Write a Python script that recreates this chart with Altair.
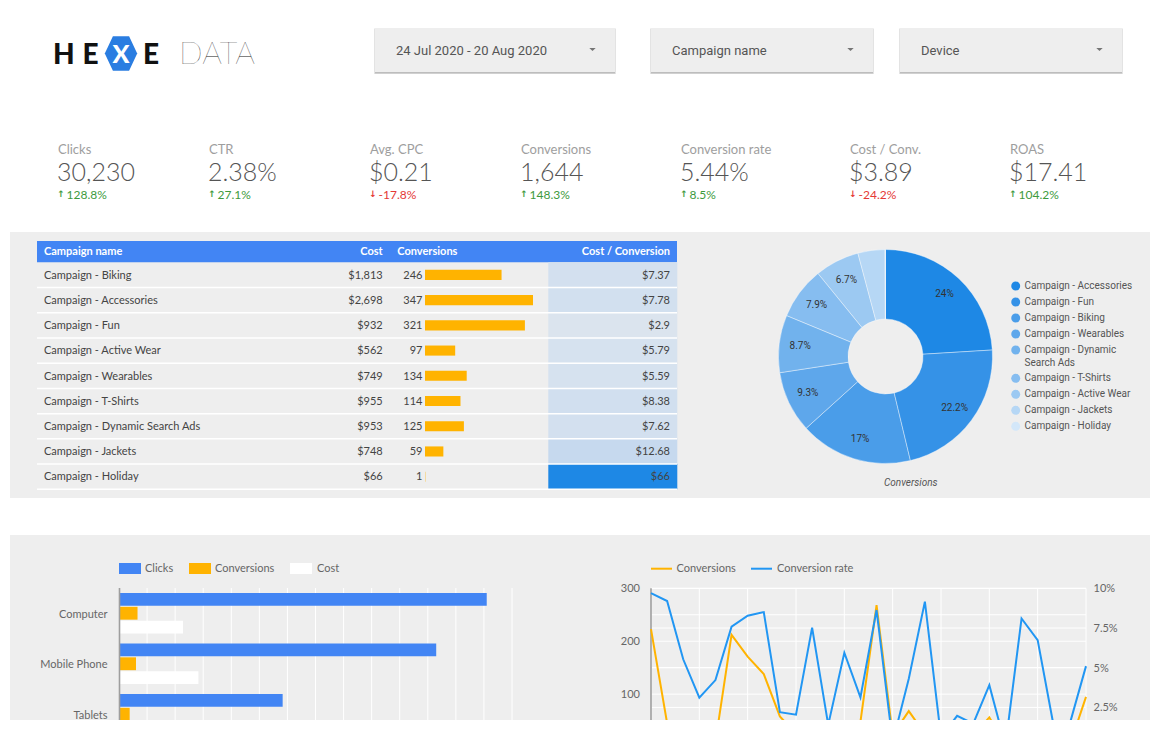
import altair as alt
import pandas as pd

# ---------------- data ----------------
CAMPAIGNS = ["Campaign - Biking", "Campaign - Accessories", "Campaign - Fun",
             "Campaign - Active Wear", "Campaign - Wearables", "Campaign - T-Shirts",
             "Campaign - Dynamic Search Ads", "Campaign - Jackets", "Campaign - Holiday"]
CAMPAIGN_COST = [1813, 2698, 932, 562, 749, 955, 953, 748, 66]
CAMPAIGN_CONV = [246, 347, 321, 97, 134, 114, 125, 59, 1]

KPI_LABELS = ["Clicks", "CTR", "Avg. CPC", "Conversions", "Conversion rate", "Cost / Conv.", "ROAS"]
KPI_VALUES = ["30,230", "2.38%", "$0.21", "1,644", "5.44%", "$3.89", "$17.41"]
KPI_CHANGES = [128.8, 27.1, -17.8, 148.3, 8.5, -24.2, 104.2]

FILTER_LABELS = ["24 Jul 2020 - 20 Aug 2020", "Campaign name", "Device"]

DEVICES = ["Computer", "Mobile Phone", "Tablets"]
METRICS = ["Clicks", "Conversions", "Cost"]
DEVICE_CLICKS = [13100, 11300, 5830]
DEVICE_CONV = [660, 605, 380]
DEVICE_COST = [2280, 2830, 1285]
BAR_TICKS = [1000, 2000, 3000, 4000, 5000, 6000, 7000, 8000, 9000, 10000, 11000, 12000, 13000, 14000]

DATES = [d.strftime("%Y-%m-%d") for d in pd.date_range("2020-07-24", "2020-08-20")]
DAILY_CONV = [223, 45, 20, 15, 10, 212, 171, 138, 58, 25, 30, 8, 40, 48,
              268, 23, 68, 25, 10, 28, 22, 56, 5, 45, 40, 18, 4, 95]
DAILY_RATE = [9.69, 9.2, 5.53, 3.11, 4.22, 7.58, 8.27, 8.5, 2.2, 2.04, 7.52, 1.4, 5.94, 3.13,
              8.63, 0.3, 4.3, 9.16, 0.63, 1.97, 1.48, 3.9, 0.1, 8.1, 6.74, 1.3, 1.5, 5.1]
CONV_TICKS = [0, 50, 100, 150, 200, 250, 300]
RATE_TICKS = [0, 2.5, 5, 7.5, 10]

PIE_COLORS = ["#1e88e5", "#3592e7", "#4a9de9", "#5ea7eb", "#71b2ed",
              "#86bdf0", "#9cc9f2", "#b6d7f5", "#d3e7f9"]

FONT = "Lato"
GREY = "#666666"
PANEL = "#eeeeee"
BLUE = "#4285f4"
AMBER = "#ffb300"
LINE_BLUE = "#2196f3"


def one():
    return alt.Data(values=[{"k": 0}])


def box(x, x2, y, y2, color, opacity=1):
    return alt.Chart(one()).mark_rect(color=color, opacity=opacity).encode(
        x=alt.value(x), x2=alt.value(x2), y=alt.value(y), y2=alt.value(y2))


def txt(text, x, y, size=11, color=GREY, align="left", font=FONT, weight=400, style="normal"):
    return alt.Chart(one()).mark_text(
        text=text, fontSize=size, color=color, align=align, baseline="middle",
        font=font, fontWeight=weight, fontStyle=style).encode(x=alt.value(x), y=alt.value(y))


L = []

# ---------------- panels ----------------
L.append(box(10, 1150, 232, 498, PANEL))
L.append(box(10, 1150, 535, 720, PANEL))

# ---------------- logo ----------------
L.append(txt("H", 53, 55.5, size=28, color="#111111", weight=900))
L.append(txt("E", 82.5, 55.5, size=28, color="#111111", weight=900))
L.append(alt.Chart(one()).mark_point(
    shape="M-1,0L-0.5,-1.06L0.5,-1.06L1,0L0.5,1.06L-0.5,1.06Z",
    filled=True, size=1050, color="#2a7de1", opacity=1).encode(x=alt.value(121), y=alt.value(53.5)))
L.append(txt("X", 121, 55, size=25, color="white", weight=900, align="center"))
L.append(txt("E", 143, 55.5, size=28, color="#111111", weight=900))
L.append(txt("DATA", 179, 54.5, size=31, color="#222222", weight=100))

# ---------------- filter controls ----------------
DD_SPANS = [(375, 615), (651, 873), (900, 1122)]
for (x0, x1), lab in zip(DD_SPANS, FILTER_LABELS):
    L.append(box(x0 - 1, x1 + 1, 28.5, 74, "#e3e3e3"))
    L.append(box(x0, x1, 29, 73.5, "#bdbdbd"))
    L.append(box(x0, x1, 28, 72, PANEL))
    L.append(txt(lab, x0 + 21, 50.5, size=13, color="#555555", font="Roboto"))
    L.append(alt.Chart(one()).mark_point(
        shape="M-1,-0.5L1,-0.5L0,0.5Z", filled=True, size=40, color="#757575", opacity=1
    ).encode(x=alt.value(x1 - 22.5), y=alt.value(49.5)))

# ---------------- KPI scorecards ----------------
KPI_X = [58, 209, 370, 521, 681, 850, 1010]
for x, lab, val, chg in zip(KPI_X, KPI_LABELS, KPI_VALUES, KPI_CHANGES):
    up = chg >= 0
    col = "#3d9a3d" if up else "#e53935"
    L.append(txt(lab, x, 150, size=13, color="#9e9e9e"))
    L.append(txt(val, x - 1, 173, size=25, color="#555555", weight=300))
    L.append(txt("\u2191" if up else "\u2193", x + 3, 194, size=9, color=col,
                 font="DejaVu Sans", weight="bold", align="center"))
    L.append(txt(f"{chg}%", x + 8.5, 194.5, size=12, color=col))

# ---------------- table ----------------
table_df = pd.DataFrame({"campaign": CAMPAIGNS, "cost": CAMPAIGN_COST, "conv": CAMPAIGN_CONV})
ROWS = [262.3, 489.3]
row_band = alt.Scale(type="band", domain=CAMPAIGNS, range=ROWS, paddingInner=0, paddingOuter=0)
row_point = alt.Scale(type="point", domain=CAMPAIGNS, range=ROWS, padding=0.5)

L.append(box(37, 677, 241, 262.3, BLUE))
L.append(txt("Campaign name", 44, 252, size=11, color="white", weight="bold"))
L.append(txt("Cost", 382.7, 252, size=11, color="white", weight="bold", align="right"))
L.append(txt("Conversions", 397.3, 252, size=11, color="white", weight="bold"))
L.append(txt("Cost / Conversion", 670, 252, size=11, color="white", weight="bold", align="right"))

tbase = alt.Chart(table_df).transform_calculate(cpc="datum.cost / datum.conv")
L.append(tbase.mark_rect().encode(
    x=alt.value(548.3), x2=alt.value(677.3),
    y=alt.Y("campaign:N", scale=row_band, axis=None),
    color=alt.Color("cpc:Q", scale=alt.Scale(domain=[2.9, 8, 66],
                                              range=["#dbe4ee", "#d2e0ef", "#1e88e5"]),
                    legend=None)))
L.append(tbase.mark_rule(color="white", strokeWidth=1.5).encode(
    x=alt.value(37), x2=alt.value(677),
    y=alt.Y("campaign:N", scale=row_band, axis=None, bandPosition=1)))
L.append(tbase.mark_bar(color=AMBER).encode(
    x=alt.X("conv:Q", scale=alt.Scale(range=[425, 533], zero=True, nice=False), axis=None),
    y=alt.Y("campaign:N", scale=alt.Scale(type="band", domain=CAMPAIGNS, range=ROWS,
                                          paddingInner=0.6, paddingOuter=0.3), axis=None)))
tt = dict(baseline="middle", font=FONT, fontSize=11, color="#444444")
L.append(tbase.mark_text(align="left", dy=0.8, **tt).encode(
    x=alt.value(44), y=alt.Y("campaign:N", scale=row_point, axis=None), text="campaign:N"))
L.append(tbase.mark_text(align="right", dy=0.8, **tt).encode(
    x=alt.value(382.7), y=alt.Y("campaign:N", scale=row_point, axis=None),
    text=alt.Text("cost:Q", format="$,.0f")))
L.append(tbase.mark_text(align="right", dy=0.8, **tt).encode(
    x=alt.value(422.5), y=alt.Y("campaign:N", scale=row_point, axis=None),
    text=alt.Text("conv:Q", format="d")))
L.append(tbase.mark_text(align="right", dy=0.8, **tt).encode(
    x=alt.value(670), y=alt.Y("campaign:N", scale=row_point, axis=None),
    text=alt.Text("cpc:Q", format="$.2~f")))

# ---------------- donut ----------------
PIE_CX, PIE_CY = 885.5, 356.5
pie_sort = alt.EncodingSortField("conv", op="sum", order="descending")
pie_color = alt.Color("campaign:N", sort=pie_sort, scale=alt.Scale(range=PIE_COLORS), legend=None)
L.append(alt.Chart(table_df).mark_arc(innerRadius=37.5, outerRadius=107, stroke="white",
                                       strokeWidth=0.4).encode(
    theta=alt.Theta("conv:Q", stack=True),
    order=alt.Order("conv:Q", sort="descending"),
    color=pie_color,
    x=alt.value(PIE_CX), y=alt.value(PIE_CY)))
L.append(alt.Chart(table_df).transform_joinaggregate(total="sum(conv)").transform_calculate(
    lab="datum.conv / datum.total >= 0.05 ? format(datum.conv / datum.total, '.1~%') : ''"
).mark_text(radius=86, fontSize=10, font="Roboto", color="#333333").encode(
    theta=alt.Theta("conv:Q", stack=True),
    order=alt.Order("conv:Q", sort="descending"),
    text="lab:N",
    x=alt.value(PIE_CX), y=alt.value(PIE_CY)))
L.append(txt("Conversions", 884, 483.3, size=10, color="#555555", font="Roboto", style="italic"))

leg_base = alt.Chart(table_df).transform_window(
    rank="row_number()", sort=[alt.SortField("conv", order="descending")]
).transform_calculate(slot="datum.rank - 1 + (datum.rank > 5 ? 0.77 : 0)")
leg_scale = alt.Scale(domain=[0, 1], range=[286, 302], zero=False, nice=False)
L.append(leg_base.mark_point(shape="circle", filled=True, size=80, opacity=1).encode(
    x=alt.value(1015.7), y=alt.Y("slot:Q", scale=leg_scale, axis=None), color=pie_color))
L.append(leg_base.transform_calculate(
    lab="replace(datum.campaign, ' Search', '\\nSearch')"
).mark_text(align="left", baseline="middle", font="Roboto", fontSize=10, color="#555555",
            lineBreak="\n", lineHeight=12.7).encode(
    x=alt.value(1024.5), y=alt.Y("slot:Q", scale=leg_scale, axis=None), text="lab:N"))

# ---------------- device bar chart ----------------
dev_df = pd.DataFrame({
    "device": DEVICES * 3,
    "metric": [m for m in METRICS for _ in DEVICES],
    "value": DEVICE_CLICKS + DEVICE_CONV + DEVICE_COST,
})
bx = alt.Scale(domain=[0, 14000], range=[119, 512], nice=False)
by = alt.Scale(type="band", domain=DEVICES, range=[588, 739.5], paddingInner=0.2, paddingOuter=0.1)
L.append(alt.Chart(pd.DataFrame({"t": BAR_TICKS})).mark_rule(color="white", strokeWidth=1).encode(
    x=alt.X("t:Q", scale=bx, axis=None), y=alt.value(588), y2=alt.value(720)))
L.append(alt.Chart(dev_df).mark_bar().encode(
    x=alt.X("value:Q", scale=bx, axis=None),
    y=alt.Y("device:N", scale=by, axis=None),
    yOffset=alt.YOffset("metric:N", scale=alt.Scale(domain=METRICS, paddingInner=0.07)),
    color=alt.Color("metric:N", scale=alt.Scale(domain=METRICS, range=[BLUE, AMBER, "#ffffff"]),
                    legend=None)))
L.append(alt.Chart(one()).mark_rule(color="#9e9e9e", strokeWidth=1.6).encode(
    x=alt.value(119.5), y=alt.value(588), y2=alt.value(720)))
L.append(alt.Chart(pd.DataFrame({"device": DEVICES})).mark_text(
    align="right", baseline="middle", font=FONT, fontSize=11, color=GREY, dy=1.5).encode(
    x=alt.value(107.5), y=alt.Y("device:N", scale=by, axis=None, bandPosition=0.5), text="device:N"))
# legend
for (x0, x1, tx), m, c in zip([(119, 141, 145), (189, 211, 215), (290, 312, 317)], METRICS,
                              [BLUE, AMBER, "#ffffff"]):
    L.append(box(x0, x1, 563, 574, c))
    L.append(txt(m, tx, 568.5, size=11, color=GREY))

# ---------------- daily line chart ----------------
daily = pd.DataFrame({"date": DATES, "conv": DAILY_CONV, "rate": DAILY_RATE})
lx = alt.Scale(type="point", domain=DATES, range=[651, 1086], padding=0)
ly_conv = alt.Scale(domain=[0, 300], range=[747.1, 588.3], nice=False)
ly_rate = alt.Scale(domain=[0, 10], range=[747.1, 588.3], nice=False)

L.append(alt.Chart(pd.DataFrame({"t": CONV_TICKS})).mark_rule(color="white", strokeWidth=1).encode(
    y=alt.Y("t:Q", scale=ly_conv, axis=None), x=alt.value(651), x2=alt.value(1086)))
L.append(alt.Chart(pd.DataFrame({"t": RATE_TICKS})).mark_rule(color="white", strokeWidth=1).encode(
    y=alt.Y("t:Q", scale=ly_rate, axis=None), x=alt.value(651), x2=alt.value(1086)))
L.append(alt.Chart(pd.DataFrame({"date": DATES[::3]})).mark_rule(color="white", strokeWidth=1).encode(
    x=alt.X("date:O", scale=lx, axis=None), y=alt.value(588.3), y2=alt.value(720)))
L.append(alt.Chart(one()).mark_rule(color="#9e9e9e", strokeWidth=1.6).encode(
    x=alt.value(651), y=alt.value(588.3), y2=alt.value(720)))
L.append(alt.Chart(daily).mark_line(color=AMBER, strokeWidth=2).encode(
    x=alt.X("date:O", scale=lx, axis=None), y=alt.Y("conv:Q", scale=ly_conv, axis=None)))
L.append(alt.Chart(daily).mark_line(color=LINE_BLUE, strokeWidth=2).encode(
    x=alt.X("date:O", scale=lx, axis=None), y=alt.Y("rate:Q", scale=ly_rate, axis=None)))
L.append(alt.Chart(pd.DataFrame({"t": CONV_TICKS})).transform_filter(
    "datum.t > 0 && datum.t % 100 == 0").mark_text(
    align="right", baseline="middle", font=FONT, fontSize=11, color=GREY, dy=1).encode(
    x=alt.value(640), y=alt.Y("t:Q", scale=ly_conv, axis=None), text=alt.Text("t:Q", format="d")))
L.append(alt.Chart(pd.DataFrame({"t": RATE_TICKS})).transform_filter("datum.t > 0").transform_calculate(
    lab="format(datum.t / 100, '.1~%')").mark_text(
    align="left", baseline="middle", font=FONT, fontSize=11, color=GREY, dy=1).encode(
    x=alt.value(1093.5), y=alt.Y("t:Q", scale=ly_rate, axis=None), text="lab:N"))
# legend
L.append(alt.Chart(one()).mark_rule(color=AMBER, strokeWidth=2).encode(
    x=alt.value(651), x2=alt.value(672), y=alt.value(568.7)))
L.append(txt("Conversions", 676.5, 568.5, size=11, color=GREY))
L.append(alt.Chart(one()).mark_rule(color=LINE_BLUE, strokeWidth=2).encode(
    x=alt.value(751), x2=alt.value(772), y=alt.value(568.7)))
L.append(txt("Conversion rate", 777, 568.5, size=11, color=GREY))

# page bottom strip
L.append(box(0, 1160, 720, 731, "white"))

chart = alt.layer(*L).resolve_scale(
    x="independent", y="independent", color="independent", theta="independent",
    yOffset="independent"
).properties(
    width=1160, height=730, padding=0,
    autosize=alt.AutoSizeParams(type="none"), background="white"
).configure_view(stroke=None)

chart.save("out.html", embed_options={"renderer": "svg", "actions": False})
